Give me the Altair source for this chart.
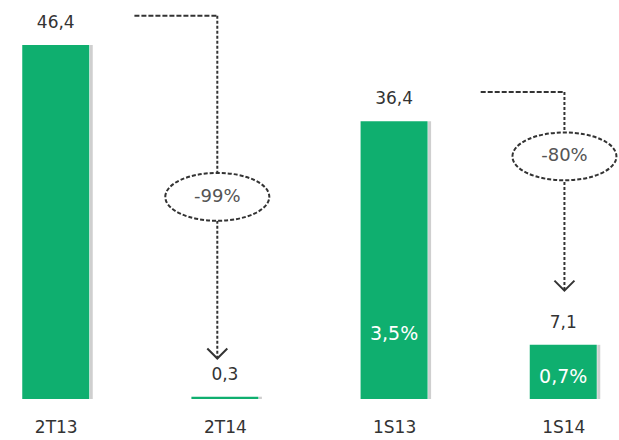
import json

import altair as alt
import pandas as pd

# Periods and their values (comma used as decimal separator in labels)
categories = ["2T13", "2T14", "1S13", "1S14"]
values = [46.4, 0.3, 36.4, 7.1]
margins = [None, None, 3.5, 0.7]

# Period-over-period changes drawn as dashed drop arrows
change_from = ["2T13", "1S13"]
change_to = ["2T14", "1S14"]
change_labels = ["-99%", "-80%"]

GREEN = "#0FAF6F"
INK = "#333333"
FONT = "DejaVu Sans"
SIZE = 17


def comma(v, suffix=""):
    return f"{v:.1f}".replace(".", ",") + suffix


idx_of = {c: i for i, c in enumerate(categories)}

bars_df = pd.DataFrame({
    "cat": categories,
    "idx": list(range(len(categories))),
    "value": values,
    "value_label": [comma(v) for v in values],
    "margin_label": [comma(m, "%") if m is not None else "" for m in margins],
})

# Where each drop arrow sits: start of the connector, nudge of the drop, badge height
arrow_layout = {"2T14": (0.465, -0.045, 26.5), "1S14": (0.512, 0.007, 31.8)}

rows = []
for src, dst, lab in zip(change_from, change_to, change_labels):
    v_from = values[idx_of[src]]
    v_to = values[idx_of[dst]]
    start, nudge, badge_y = arrow_layout[dst]
    rows.append({
        "label": lab,
        "x_start": idx_of[src] + start,
        "x_drop": idx_of[dst] + nudge,
        "top": v_from + 3.85,
        "tip": max(v_to + 5, 2 * v_to),
        "badge_y": badge_y,
    })
ann_df = pd.DataFrame(rows)

x_scale = alt.Scale(domain=[-0.3, 3.3], nice=False, zero=False)
y_scale = alt.Scale(domain=[0, 52.3], nice=False)
x_axis = alt.Axis(
    values=list(range(len(categories))),
    labelExpr=f"{json.dumps(categories)}[datum.value]",
    grid=False, domain=False, ticks=False, tickSize=0,
    labelFont=FONT, labelFontSize=SIZE, labelColor=INK,
    labelPadding=20, title=None,
)


def X(field):
    return alt.X(field, type="quantitative", scale=x_scale, axis=x_axis)


def Y(field):
    return alt.Y(field, type="quantitative", scale=y_scale, axis=None)


base = alt.Chart(bars_df)

shadow = base.mark_bar(orient="vertical", width=3, xOffset=35.5, color="#cfcfcf").encode(
    x=X("idx"), y=Y("value")
)
bars = base.mark_bar(orient="vertical", width=67, color=GREEN).encode(
    x=X("idx"), y=Y("value")
)
value_text = base.mark_text(
    dy=-22, font=FONT, fontSize=SIZE, color=INK, baseline="middle"
).encode(x=X("idx"), y=Y("value"), text="value_label:N")
margin_text = base.transform_filter("datum.margin_label != ''").transform_calculate(
    my="min(datum.value * 0.4, 8.5)"
).mark_text(font=FONT, fontSize=19, color="white", baseline="middle").encode(
    x=X("idx"), y=Y("my"), text="margin_label:N"
)

ann = alt.Chart(ann_df)
hline = ann.mark_rule(color=INK, strokeWidth=2, strokeDash=[5, 2]).encode(
    x=X("x_start"), x2=alt.X2("x_drop"), y=Y("top")
)
vline = ann.mark_rule(color=INK, strokeWidth=2, strokeDash=[3, 2]).encode(
    x=X("x_drop"), y=Y("top"), y2=alt.Y2("tip")
)
ELLIPSE = "M-1,0A1,0.46,0,1,1,1,0A1,0.46,0,1,1,-1,0Z"
badge = ann.mark_point(
    shape=ELLIPSE, size=104 * 104, filled=True, fill="white", stroke=INK,
    strokeWidth=2, strokeDash=[4, 2], opacity=1,
).encode(x=X("x_drop"), y=Y("badge_y"))
badge_text = ann.mark_text(font=FONT, fontSize=18, color="#555555", baseline="middle").encode(
    x=X("x_drop"), y=Y("badge_y"), text="label:N"
)
arrow = ann.mark_point(
    shape="M-1,-1L0,0L1,-1", size=400, filled=False, stroke=INK,
    strokeWidth=2, opacity=1,
).encode(x=X("x_drop"), y=Y("tip"))

chart = alt.layer(
    shadow, bars, value_text, margin_text, hline, vline, badge, badge_text, arrow
).properties(
    width=619,
    height=399,
    autosize=alt.AutoSizeParams(type="none"),
    padding={"left": 0, "right": 0, "top": 0, "bottom": 41},
    background="white",
).configure_view(stroke=None)

chart.save("out.html", embed_options={"renderer": "svg", "actions": False})
